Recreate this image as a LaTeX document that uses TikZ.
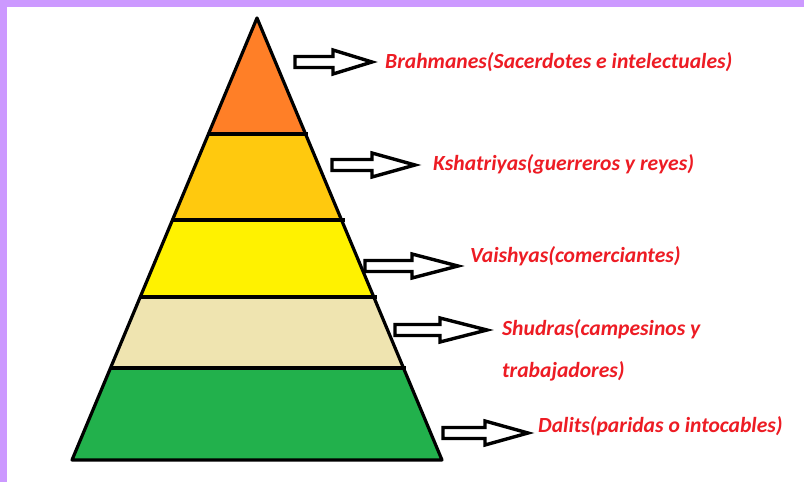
\documentclass[tikz,border=0pt]{standalone}
\usepackage{fontspec}
\setmainfont{Carlito}
\definecolor{bordp}{HTML}{CC99FF}
\definecolor{corange}{HTML}{FF7F27}
\definecolor{cgold}{HTML}{FFC90E}
\definecolor{cyellow}{HTML}{FFF200}
\definecolor{ctan}{HTML}{EFE4B0}
\definecolor{cgreen}{HTML}{22B14C}
\definecolor{cred}{HTML}{ED1C24}
\tikzset{
  band/.style={draw=black, line width=3.2pt, line join=round},
  sepline/.style={draw=black, line width=3.2pt},
  blockarrow/.style={draw=black, fill=white, line width=3.4pt, line join=miter},
  lbl/.style={anchor=base west, inner sep=0pt, text=cred, font=\fontsize{21.6}{26}\selectfont\bfseries\itshape}
}
\newcommand{\bkarrow}[4]{%
  \draw[blockarrow] (#1,#4-5.5) -- (#2,#4-5.5) -- (#2,#4-12) -- (#3,#4) -- (#2,#4+12) -- (#2,#4+5.5) -- (#1,#4+5.5) -- cycle;}
\begin{document}
\begin{tikzpicture}[x=1pt,y=-1pt]
\useasboundingbox (0,0) rectangle (804,482);
\fill[white] (0,0) rectangle (804,482);
\fill[bordp] (0,0) rectangle (804,7);
\fill[bordp] (0,0) rectangle (7,482);
% pyramid geometry
\coordinate (apex) at (257,18);
\coordinate (bl) at (72,460);
\coordinate (br) at (442,460);
% helper: left/right edge x at given y
\def\lx#1{257-(#1-18)*0.41855}
\def\rx#1{257+(#1-18)*0.41855}
\fill[corange] (apex) -- ({\lx{134}},134) -- ({\rx{134}},134) -- cycle;
\fill[cgold] ({\lx{134}},134) -- ({\rx{134}},134) -- ({\rx{220}},220) -- ({\lx{220}},220) -- cycle;
\fill[cyellow] ({\lx{220}},220) -- ({\rx{220}},220) -- ({\rx{297}},297) -- ({\lx{297}},297) -- cycle;
\fill[ctan] ({\lx{297}},297) -- ({\rx{297}},297) -- ({\rx{368}},368) -- ({\lx{368}},368) -- cycle;
\fill[cgreen] ({\lx{368}},368) -- ({\rx{368}},368) -- (br) -- (bl) -- cycle;
\draw[sepline] ({\lx{134}},134) -- ({\rx{134}+2},134);
\draw[sepline] ({\lx{220}},220) -- ({\rx{220}+3},220);
\draw[sepline] ({\lx{297}},297) -- ({\rx{297}+3},297);
\draw[sepline] ({\lx{368}},368) -- ({\rx{368}+3},368);
\draw[band] (apex) -- (br) -- (bl) -- cycle;
% arrows
\bkarrow{295}{333}{372}{62}
\bkarrow{332}{372}{415}{165}
\bkarrow{365}{412}{458}{266}
\bkarrow{395}{440}{487}{330}
\bkarrow{443}{485}{528}{433}
% labels
\node[lbl] (brah) at (385,68) {Brahmanes(Sacerdotes e intelectuales)};
\node[lbl] (ksha) at (433,170) {Kshatriyas(guerreros y reyes)};
\node[lbl] (vais) at (470,262) {Vaishyas(comerciantes)};
\node[lbl] (shud) at (502,335) {Shudras(campesinos y};
\node[lbl] (shud2) at (502,377) {trabajadores)};
\node[lbl] (dali) at (538,432) {Dalits(paridas o intocables)};
\end{tikzpicture}
\end{document}
